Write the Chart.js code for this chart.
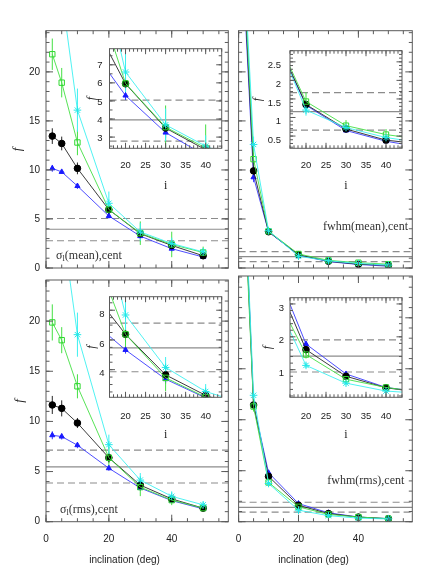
<!DOCTYPE html>
<html><head><meta charset="utf-8">
<script src="https://cdn.jsdelivr.net/npm/chart.js@4/dist/chart.umd.min.js"></script>
<style>
html,body{margin:0;padding:0;background:#fff;}
#fig{position:relative;width:436px;height:581px;overflow:hidden;background:#fff;}
canvas{position:absolute;}
</style></head>
<body><div id="fig"></div>
<script>
// ---------------- DATA ----------------
const inclinations = [2, 5, 10, 20, 30, 40, 50];

// sigma_l(mean), cent
const sigMeanBlack = [13.45, 12.7, 10.16, 5.95, 3.5, 2.3, 1.25];
const sigMeanBlue  = [10.16, 9.8, 8.36, 5.3, 3.25, 1.97, 1.12];
const sigMeanGreen = [21.8, 18.9, 12.8, 5.97, 3.55, 2.4, 1.58];
const sigMeanCyan  = [36, 28, 16.1, 6.6, 3.68, 2.5, 1.64];
const sigMeanBlackErr = [0.8, 0.7, 0.6, 0.35, 0.3, 0.25, 0.2];
const sigMeanBlueErr  = [0.35, 0.2, 0.3, 0.25, 0.3, 0.3, 0.2];
const sigMeanGreenErr = [1.6, 1.5, 1.3, 0.5, 1.2, 1.3, 0.6];
const sigMeanCyanErr  = [3, 3, 2.2, 1.2, 0.9, 0.6, 0.4];
const sigMeanRef = [3.95];
const sigMeanBand = [5.05, 2.78];

// fwhm(mean), cent
const fwhmMeanBlack = [28, 9.9, 3.7, 1.35, 0.69, 0.39, 0.27];
const fwhmMeanBlue  = [27, 9.25, 3.68, 1.33, 0.65, 0.36, 0.18];
const fwhmMeanGreen = [29, 11.1, 3.75, 1.43, 0.78, 0.54, 0.39];
const fwhmMeanCyan  = [30, 12.6, 3.8, 1.2, 0.73, 0.46, 0.3];
const fwhmMeanBlackErr = [1, 0.5, 0.2, 0.08, 0.05, 0.05, 0.03];
const fwhmMeanBlueErr  = [1, 0.5, 0.2, 0.08, 0.05, 0.05, 0.03];
const fwhmMeanGreenErr = [1.5, 0.7, 0.3, 0.25, 0.15, 0.15, 0.08];
const fwhmMeanCyanErr  = [2, 0.8, 0.4, 0.15, 0.08, 0.08, 0.05];
const fwhmMeanRef = [1.16];
const fwhmMeanBand = [1.67, 0.66];

// sigma_l(rms), cent
const sigRmsBlack = [11.64, 11.3, 9.84, 6.38, 3.65, 2.27, 1.35];
const sigRmsBlue  = [8.62, 8.49, 7.63, 5.33, 3.36, 2.1, 1.28];
const sigRmsGreen = [19.87, 18.1, 13.5, 6.38, 3.45, 2.15, 1.35];
const sigRmsCyan  = [38, 30, 18.65, 7.68, 4.15, 2.53, 1.68];
const sigRmsBlackErr = [0.9, 0.8, 0.5, 0.5, 0.4, 0.3, 0.2];
const sigRmsBlueErr  = [0.4, 0.3, 0.3, 0.25, 0.3, 0.2, 0.2];
const sigRmsGreenErr = [1.8, 1.3, 1.2, 1.1, 0.9, 0.5, 0.3];
const sigRmsCyanErr  = [3, 3, 2.2, 1.0, 0.7, 0.5, 0.3];
const sigRmsRef = [5.46];
const sigRmsBand = [7.13, 3.86];

// fwhm(rms), cent
const fwhmRmsBlack = [32, 11.45, 4.45, 1.61, 0.8, 0.45, 0.29];
const fwhmRmsBlue  = [32.5, 11.5, 4.8, 1.78, 0.87, 0.46, 0.3];
const fwhmRmsGreen = [31, 11.3, 3.85, 1.46, 0.71, 0.46, 0.3];
const fwhmRmsCyan  = [33, 12.4, 3.75, 1.13, 0.59, 0.35, 0.27];
const fwhmRmsBlackErr = [1, 0.5, 0.2, 0.08, 0.05, 0.04, 0.03];
const fwhmRmsBlueErr  = [1, 0.5, 0.2, 0.08, 0.05, 0.04, 0.03];
const fwhmRmsGreenErr = [1, 0.5, 0.2, 0.12, 0.1, 0.1, 0.05];
const fwhmRmsCyanErr  = [1, 0.6, 0.2, 0.08, 0.06, 0.05, 0.04];
const fwhmRmsRef = [1.41];
const fwhmRmsBand = [1.91, 0.93];

// tick labels
const mainXTicks = [0, 20, 40];
const mainYTicks = [0, 5, 10, 15, 20];
const insetXTicks = [20, 25, 30, 35, 40];
const sigMeanInsetYTicks = [3, 4, 5, 6, 7];
const fwhmMeanInsetYTicks = [0.5, 1, 1.5, 2, 2.5];
const sigRmsInsetYTicks = [4, 6, 8];
const fwhmRmsInsetYTicks = [1, 2, 3];

// ---------------- STYLES ----------------
const STYLES = [
  {line:'#262626', pt:'#000000', fill:'#000000', style:'circle',   r:3.3, order:3},
  {line:'#3a3aff', pt:'#1a1aff', fill:'#1a1aff', style:'triangle', r:3.0, order:4},
  {line:'#44e044', pt:'#2fd82f', fill:'rgba(0,0,0,0)', style:'rect', r:3.8, order:2},
  {line:'#3cf0f0', pt:'#22e8e8', fill:'rgba(0,0,0,0)', style:'star', r:3.8, order:1}
];
const SANS = 'Liberation Sans, Arial, Helvetica, sans-serif';
const SERIF = 'Liberation Serif, Times New Roman, serif';

// ---------------- PLUGINS ----------------
const frameTicks = {
  id: 'frameTicks',
  beforeDraw(chart, args, o) {
    if (o.fill) {
      const a = chart.chartArea, ctx = chart.ctx;
      ctx.save(); ctx.fillStyle = '#fff'; ctx.fillRect(a.left, a.top, a.width, a.height); ctx.restore();
    }
  },
  afterDraw(chart, args, o) {
    const {ctx, chartArea: a} = chart;
    const xs = chart.scales.x, ys = chart.scales.y;
    ctx.save();
    ctx.strokeStyle = o.color; ctx.lineWidth = 1;
    ctx.beginPath();
    const marks = (scale, step, len, horiz) => {
      const i0 = Math.ceil(scale.min / step - 1e-6), i1 = Math.floor(scale.max / step + 1e-6);
      for (let i = i0; i <= i1; i++) {
        const p = scale.getPixelForValue(i * step);
        if (horiz) { ctx.moveTo(p, a.bottom); ctx.lineTo(p, a.bottom - len); ctx.moveTo(p, a.top); ctx.lineTo(p, a.top + len); }
        else { ctx.moveTo(a.left, p); ctx.lineTo(a.left + len, p); ctx.moveTo(a.right, p); ctx.lineTo(a.right - len, p); }
      }
    };
    marks(xs, o.xMinor, o.minorLen, true); marks(xs, o.xMajor, o.majorLen, true);
    marks(ys, o.yMinor, o.minorLen, false); marks(ys, o.yMajor, o.majorLen, false);
    ctx.stroke();
    ctx.strokeRect(a.left, a.top, a.width, a.height);
    ctx.restore();
  }
};

const refLines = {
  id: 'refLines',
  beforeDatasetsDraw(chart, args, o) {
    const {ctx, chartArea: a} = chart; const y = chart.scales.y;
    ctx.save(); ctx.beginPath(); ctx.rect(a.left, a.top, a.width, a.height); ctx.clip();
    ctx.strokeStyle = o.color; ctx.lineWidth = o.width;
    const draw = (v, dash) => { const p = y.getPixelForValue(v); ctx.setLineDash(dash); ctx.beginPath(); ctx.moveTo(a.left, p); ctx.lineTo(a.right, p); ctx.stroke(); };
    (o.solid || []).forEach(v => draw(v, []));
    (o.dashed || []).forEach(v => draw(v, o.dash));
    ctx.restore();
  }
};

const errorBars = {
  id: 'errorBars',
  beforeDatasetsDraw(chart) {
    const {ctx, chartArea: a} = chart; const x = chart.scales.x, y = chart.scales.y;
    ctx.save(); ctx.beginPath(); ctx.rect(a.left, a.top, a.width, a.height); ctx.clip();
    chart.data.datasets.forEach(ds => {
      if (!ds.errors) return;
      ctx.strokeStyle = ds.borderColor; ctx.lineWidth = 1;
      ctx.beginPath();
      ds.data.forEach((pt, i) => {
        const e = ds.errors[i]; const px = x.getPixelForValue(pt.x);
        ctx.moveTo(px, y.getPixelForValue(pt.y - e)); ctx.lineTo(px, y.getPixelForValue(pt.y + e));
      });
      ctx.stroke();
    });
    ctx.restore();
  }
};

const panelText = {
  id: 'panelText',
  afterDraw(chart, args, o) {
    const {ctx, chartArea: a} = chart;
    ctx.save(); ctx.fillStyle = o.color || '#333'; ctx.textBaseline = 'middle';
    if (o.parts) {
      const fontMain = '12px ' + SERIF, fontSub = '8.5px ' + SERIF;
      let total = 0;
      o.parts.forEach(p => { ctx.font = p.sub ? fontSub : fontMain; total += ctx.measureText(p.t).width; });
      let x = (o.right !== undefined) ? a.right - o.right - total : a.left + o.left;
      const y = a.bottom - o.up;
      o.parts.forEach(p => {
        ctx.font = p.sub ? fontSub : fontMain; ctx.textAlign = 'left';
        ctx.fillText(p.t, x, p.sub ? y + 3 : y);
        x += ctx.measureText(p.t).width;
      });
    }
    if (o.axisTitle) {
      ctx.font = '10px ' + SANS; ctx.fillStyle = '#222'; ctx.textAlign = 'center';
      ctx.fillText(o.axisTitle.text, chart.scales.x.getPixelForValue(o.axisTitle.at), a.bottom + o.axisTitle.dy);
    }
    ctx.restore();
  }
};

// ---------------- BUILDER ----------------
const fig = document.getElementById('fig');
function makePanel(p) {
  const [cx, cy, cw, ch] = p.canvas;
  const [L, T, R, B] = p.area;
  const cv = document.createElement('canvas');
  cv.width = cw; cv.height = ch;
  cv.style.left = cx + 'px'; cv.style.top = cy + 'px';
  cv.style.width = cw + 'px'; cv.style.height = ch + 'px';
  fig.appendChild(cv);
  const datasets = STYLES.map((s, i) => ({
    data: inclinations.map((x, j) => ({x: x, y: p.values[i][j]})),
    errors: p.errors[i],
    borderColor: s.line, backgroundColor: s.fill, borderWidth: 0.9,
    pointStyle: s.style, pointRadius: s.r, pointBorderColor: s.pt,
    pointBackgroundColor: s.fill, pointBorderWidth: 1, order: s.order, tension: 0
  }));
  const fmt = v => String(+(+v).toFixed(2));
  new Chart(cv, {
    type: 'line',
    data: {datasets},
    plugins: [frameTicks, refLines, errorBars, panelText],
    options: {
      responsive: false, animation: false, devicePixelRatio: 1, events: [],
      layout: {padding: {
        left: p.showY ? 0 : L - cx,
        top: T - cy,
        right: cx + cw - R,
        bottom: p.showX ? 0 : cy + ch - B
      }},
      scales: {
        x: {
          type: 'linear', min: p.x[0], max: p.x[1], display: p.showX, position: 'bottom',
          grid: {display: false, drawTicks: false}, border: {display: false},
          ticks: {padding: p.xPad || 11.5, color: '#222', font: {family: SANS, size: p.fs}, maxRotation: 0, autoSkip: false, callback: fmt},
          afterBuildTicks: s => { s.ticks = p.xTicks.map(v => ({value: v})); },
          afterFit: s => { s.height = cy + ch - B; },
          title: p.xTitle ? {display: true, text: p.xTitle, color: '#222', font: {family: SERIF, size: 12}, padding: {top: 0, bottom: p.xTitlePad}} : {display: false}
        },
        y: {
          type: 'linear', min: p.y[0], max: p.y[1], display: p.showY, position: 'left',
          grid: {display: false, drawTicks: false}, border: {display: false},
          ticks: {padding: p.yPad, color: '#222', font: {family: SANS, size: p.fs}, labelOffset: p.yLabelOffset || 0, autoSkip: false, callback: fmt},
          afterBuildTicks: s => { s.ticks = p.yTicks.map(v => ({value: v})); },
          afterFit: s => { s.width = L - cx; },
          title: p.yTitle ? {display: true, text: 'f', color: '#222', font: {family: SERIF, size: p.yTitleSize, style: 'italic'}, padding: {top: p.yTitlePad, bottom: 0}} : {display: false}
        }
      },
      plugins: {
        legend: {display: false}, tooltip: {enabled: false},
        frameTicks: {color: '#5a5a5a', fill: p.inset, xMinor: p.xMinor, xMajor: p.xMajor, yMinor: p.yMinor, yMajor: p.yMajor, minorLen: p.inset ? 3 : 3.5, majorLen: p.inset ? 5.5 : 7},
        refLines: {color: '#8c8c8c', width: 1.2, dash: [7, 4], solid: p.solid, dashed: p.dashed},
        panelText: p.text || {}
      }
    }
  });
}

const vals = (a, b, c, d) => [a, b, c, d];

const PANELS = [
  // main panels
  {canvas: [0, 0, 236, 284], area: [46, 30.7, 228.3, 276], x: [0, 58], y: [0, 24.2], showX: false, showY: true,
   xTicks: mainXTicks, yTicks: mainYTicks, fs: 10, yPad: 6, yTitle: true, yTitleSize: 13, yTitlePad: 10,
   xMinor: 5, xMajor: 20, yMinor: 1, yMajor: 5,
   values: vals(sigMeanBlack, sigMeanBlue, sigMeanGreen, sigMeanCyan),
   errors: vals(sigMeanBlackErr, sigMeanBlueErr, sigMeanGreenErr, sigMeanCyanErr),
   solid: sigMeanRef, dashed: sigMeanBand,
   text: {parts: [{t: 'σ'}, {t: 'l', sub: true}, {t: '(mean),cent'}], left: 10, up: 12, color: '#333'}},
  {canvas: [218, 0, 218, 284], area: [228.3, 30.7, 412.3, 276], x: [0, 58], y: [0, 24.2], showX: false, showY: false,
   xTicks: mainXTicks, yTicks: mainYTicks, fs: 10, yPad: 6,
   xMinor: 5, xMajor: 20, yMinor: 1, yMajor: 5,
   values: vals(fwhmMeanBlack, fwhmMeanBlue, fwhmMeanGreen, fwhmMeanCyan),
   errors: vals(fwhmMeanBlackErr, fwhmMeanBlueErr, fwhmMeanGreenErr, fwhmMeanCyanErr),
   solid: fwhmMeanRef, dashed: fwhmMeanBand,
   text: {parts: [{t: 'fwhm(mean),cent'}], right: 4.3, up: 41, color: '#333'}},
  {canvas: [0, 268, 236, 313], area: [46, 276, 228.3, 521.7], x: [0, 58], y: [0, 24.1], showX: true, showY: true,
   xTicks: mainXTicks, yTicks: mainYTicks, fs: 10, yPad: 6, xPad: 11.6, yTitle: true, yTitleSize: 13, yTitlePad: 12,
   xMinor: 5, xMajor: 20, yMinor: 1, yMajor: 5,
   values: vals(sigRmsBlack, sigRmsBlue, sigRmsGreen, sigRmsCyan),
   errors: vals(sigRmsBlackErr, sigRmsBlueErr, sigRmsGreenErr, sigRmsCyanErr),
   solid: sigRmsRef, dashed: sigRmsBand,
   text: {parts: [{t: 'σ'}, {t: 'l', sub: true}, {t: '(rms),cent'}], left: 14, up: 11.7, color: '#333',
          axisTitle: {text: 'inclination (deg)', at: 25, dy: 38.3}}},
  {canvas: [218, 268, 218, 313], area: [228.3, 276, 412.3, 521.7], x: [0, 58], y: [0, 24.1], showX: true, showY: false,
   xTicks: mainXTicks, yTicks: mainYTicks, fs: 10, yPad: 6, xPad: 11.6,
   xMinor: 5, xMajor: 20, yMinor: 1, yMajor: 5,
   values: vals(fwhmRmsBlack, fwhmRmsBlue, fwhmRmsGreen, fwhmRmsCyan),
   errors: vals(fwhmRmsBlackErr, fwhmRmsBlueErr, fwhmRmsGreenErr, fwhmRmsCyanErr),
   solid: fwhmRmsRef, dashed: fwhmRmsBand,
   text: {parts: [{t: 'fwhm(rms),cent'}], right: 8, up: 40.7, color: '#333',
          axisTitle: {text: 'inclination (deg)', at: 25, dy: 38.3}}},
  // insets
  {inset: true, canvas: [80, 36, 148, 160], area: [109.5, 44, 221.7, 148.3], x: [16, 44], y: [2.38, 7.89], showX: true, showY: true,
   xTicks: insetXTicks, yTicks: sigMeanInsetYTicks, fs: 9.5, yPad: 7, xPad: 11.7, yLabelOffset: 1,
   yTitle: true, yTitleSize: 12, yTitlePad: 4.8, xTitle: 'i', xTitlePad: 3.1,
   xMinor: 1, xMajor: 5, yMinor: 0.5, yMajor: 1,
   values: vals(sigMeanBlack, sigMeanBlue, sigMeanGreen, sigMeanCyan),
   errors: vals(sigMeanBlackErr, sigMeanBlueErr, sigMeanGreenErr, sigMeanCyanErr),
   solid: sigMeanRef, dashed: sigMeanBand},
  {inset: true, canvas: [248, 36, 164, 160], area: [290, 44, 402, 148.3], x: [16, 44], y: [0.17, 2.8], showX: true, showY: true,
   xTicks: insetXTicks, yTicks: fwhmMeanInsetYTicks, fs: 9.5, yPad: 9, xPad: 11.7, yLabelOffset: 4,
   yTitle: true, yTitleSize: 12, yTitlePad: 2.8, xTitle: 'i', xTitlePad: 3.1,
   xMinor: 1, xMajor: 5, yMinor: 0.1, yMajor: 0.5,
   values: vals(fwhmMeanBlack, fwhmMeanBlue, fwhmMeanGreen, fwhmMeanCyan),
   errors: vals(fwhmMeanBlackErr, fwhmMeanBlueErr, fwhmMeanGreenErr, fwhmMeanCyanErr),
   solid: fwhmMeanRef, dashed: fwhmMeanBand},
  {inset: true, canvas: [80, 286, 148, 161], area: [109.5, 294, 221.7, 397.3], x: [16, 44], y: [2.14, 8.91], showX: true, showY: true,
   xTicks: insetXTicks, yTicks: sigRmsInsetYTicks, fs: 9.5, yPad: 5, xPad: 13, yLabelOffset: 4,
   yTitle: true, yTitleSize: 12, yTitlePad: 4.8, xTitle: 'i', xTitlePad: 4.8,
   xMinor: 1, xMajor: 5, yMinor: 0.5, yMajor: 2,
   values: vals(sigRmsBlack, sigRmsBlue, sigRmsGreen, sigRmsCyan),
   errors: vals(sigRmsBlackErr, sigRmsBlueErr, sigRmsGreenErr, sigRmsCyanErr),
   solid: sigRmsRef, dashed: sigRmsBand},
  {inset: true, canvas: [248, 286, 164, 161], area: [290, 294, 402, 397.3], x: [16, 44], y: [0.16, 3.19], showX: true, showY: true,
   xTicks: insetXTicks, yTicks: fwhmRmsInsetYTicks, fs: 9.5, yPad: 6, xPad: 13, yLabelOffset: 4,
   yTitle: true, yTitleSize: 12, yTitlePad: 13, xTitle: 'i', xTitlePad: 4.8,
   xMinor: 1, xMajor: 5, yMinor: 0.2, yMajor: 1,
   values: vals(fwhmRmsBlack, fwhmRmsBlue, fwhmRmsGreen, fwhmRmsCyan),
   errors: vals(fwhmRmsBlackErr, fwhmRmsBlueErr, fwhmRmsGreenErr, fwhmRmsCyanErr),
   solid: fwhmRmsRef, dashed: fwhmRmsBand}
];

PANELS.forEach(makePanel);
</script>
</body></html>
